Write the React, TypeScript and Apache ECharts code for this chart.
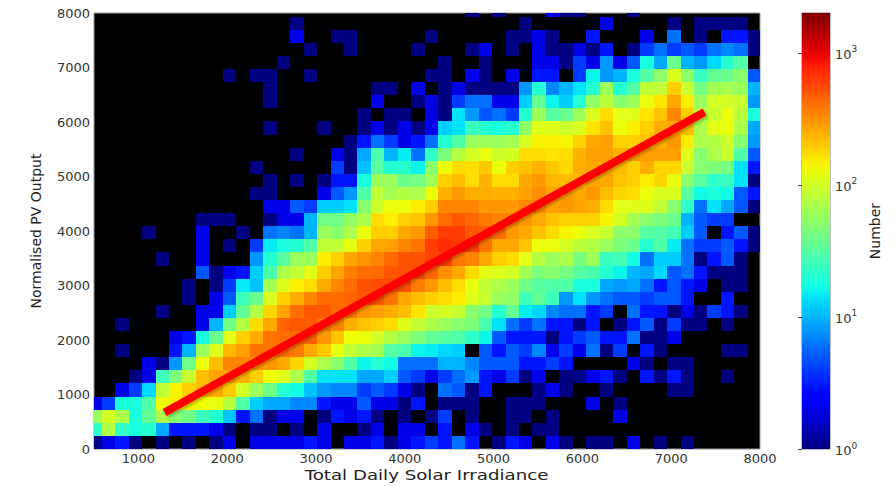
import React, { useEffect, useRef } from "react";
import * as echarts from "echarts";

const Z = [0, 0, 0, 0, 0, 0, 0, 0, 0, 0];
const r00 = [1,2,3,1,0,1,0,1,0,1, 2,0,2,2,2,2,3,2,0,2, 2,3,1,2,3,4,3,6,3,0, 1,3,2,0,2,1,0,1,1,0, 2,0,1,0,1,0,0,0,0,0];
const r01 = [22,75,22,18,20,9,3,3,3,2, 1,0,1,1,0,1,0,2,0,0, 1,2,0,2,2,0,3,0,2,1, 0,1,0,1,1,0,0,0,0,0, ...Z];
const r02 = [60,100,70,18,35,70,50,40,25,20, 11,3,6,1,2,2,0,1,3,2, 3,1,0,1,0,1,4,0,1,0, 0,1,1,0,1,0,0,0,0,2, ...Z];
const r03 = [2,4,18,18,30,130,150,140,130,120, 80,30,12,9,9,7,7,3,2,2, 5,2,2,1,3,0,1,1,1,0, 0,1,1,1,0,0,0,2,0,1, ...Z];
const r04 = [0,0,2,4,13,85,140,190,230,260, 200,100,60,40,20,17,11,8,7,7, 4,5,4,2,1,0,6,5,1,3, 0,0,0,1,2,1,0,0,1,0, 0,0,0,1,1,0,0,0,0,0];
const r05 = [0,0,0,1,2,25,45,90,220,270, 280,240,190,130,110,70,30,14,14,14, 9,9,12,5,4,2,4,6,8,3, 2,4,1,2,0,1,1,2,3,1, 0,3,1,3,1,0,0,1,0,0];
const r06 = [0,0,0,0,2,1,8,40,130,220, 350,350,300,300,260,180,100,70,50,30, 16,20,17,6,6,6,10,10,7,5, 5,5,3,3,4,3,0,0,0,0, 2,1,0,1,1,0,0,0,0,0];
const r07 = [0,0,1,0,0,0,3,10,60,110, 230,280,400,400,420,380,260,200,120,85, 70,65,32,28,16,15,13,12,0,5, 3,5,4,7,2,4,2,6,1,4, 0,3,1,0,0,0,0,1,1,0];
const r08 = [0,0,0,0,0,0,2,3,18,38, 115,190,250,400,420,430,450,300,210,130, 125,100,75,60,45,35,32,30,22,16, 5,3,3,3,1,3,4,5,3,3, 6,1,1,2,0,0,0,0,0,0];
const r09 = [0,0,1,0,0,0,0,0,2,10, 40,75,170,260,450,500,480,400,350,250, 210,190,170,110,85,70,60,50,45,28, 14,6,4,6,3,3,1,3,0,1, 3,5,1,4,1,1,0,1,0,0];
const r10 = [0,0,0,0,0,1,0,0,2,2, 12,35,75,180,270,420,500,500,420,380, 300,280,250,220,160,95,100,90,50,42, 20,35,15,13,7,6,6,3,4,0, 6,3,3,1,2,1,4,3,1,0];
const r11 = [0,0,0,0,0,0,0,1,0,2, 5,25,38,105,190,250,340,420,420,450, 500,500,400,260,220,190,170,150,110,90, 60,55,25,35,25,8,14,8,6,5, 5,4,5,5,3,0,0,3,0,0];
const r12 = [0,0,0,0,0,0,0,1,0,1, 4,15,11,65,110,145,170,260,340,420, 520,550,560,530,370,300,220,170,120,85, 70,60,40,32,30,30,18,18,9,8, 9,6,3,5,3,2,0,1,1,0];
const r13 = [0,0,0,0,0,0,0,0,5,1, 2,3,12,28,70,85,115,190,270,370, 420,430,500,520,540,450,320,260,170,115, 110,100,65,45,50,42,32,28,20,16, 10,9,13,5,6,3,1,1,1,0];
const r14 = [0,0,0,0,0,1,0,0,2,0, 0,0,8,20,32,60,60,150,190,270, 310,350,430,520,520,600,620,400,350,260, 190,170,115,75,60,70,42,60,24,26, 17,6,12,12,6,1,3,5,1,0];
const r15 = [0,0,0,0,0,0,0,0,2,0, 1,0,4,15,18,20,30,85,85,120, 190,260,280,340,400,620,700,650,620,400, 260,260,210,125,125,100,80,75,60,45, 38,20,30,15,6,4,4,5,3,1];
const r16 = [0,0,0,0,1,0,0,0,2,0, 0,1,0,6,7,6,10,60,50,70, 125,190,190,260,290,480,620,620,500,480, 420,300,260,210,170,140,125,105,90,52, 52,32,30,26,12,5,0,3,5,1];
const r17 = [0,0,0,0,0,0,0,0,1,1, 1,0,0,1,2,2,10,40,40,55, 70,170,145,190,210,300,420,500,430,380, 350,350,300,260,210,190,190,190,140,100, 65,52,45,38,10,5,4,4,0,0];
const r18 = [...Z, 0,0,0,2,2,5,4,12,12,14, 50,95,125,125,150,190,350,350,350,300, 300,300,340,340,280,290,270,250,170,115, 110,110,85,50,22,6,14,9,5,1];
const r19 = [...Z, 0,0,1,1,0,0,0,2,5,8, 30,85,65,75,70,125,240,290,250,250, 240,240,280,320,270,290,260,300,220,180, 170,125,105,105,32,17,18,17,5,3];
const r20 = [...Z, 0,0,0,1,0,1,0,1,3,3, 18,60,60,38,42,65,190,220,170,240, 170,170,260,290,230,220,230,260,260,210, 190,150,180,125,50,32,22,24,14,1];
const r21 = [...Z, 0,0,1,0,0,0,0,0,4,1, 11,32,20,20,16,50,125,170,170,200, 125,190,210,240,200,180,250,260,250,220, 190,250,180,180,90,50,45,42,14,3];
const r22 = [...Z, 0,0,0,0,0,1,0,0,2,1, 9,28,10,15,6,22,45,75,100,125, 95,100,170,170,160,170,240,280,280,240, 300,280,280,280,110,50,70,90,30,5];
const r23 = [...Z, 0,0,0,0,0,0,0,0,0,1, 3,6,4,2,3,6,20,30,60,60, 60,65,105,140,145,140,190,260,280,190, 190,210,250,300,150,70,75,95,50,8];
const r24 = [...Z, 0,0,0,1,0,0,0,1,0,0, 1,2,1,2,1,2,12,14,24,20, 18,20,55,110,110,95,105,160,210,125, 150,190,250,260,220,70,115,125,70,9];
const r25 = [...Z, ...Z, 1,0,1,1,0,2,1,14,8,5, 6,4,20,60,32,38,60,105,170,115, 110,160,210,340,190,80,90,125,80,18];
const r26 = [...Z, 0,0,0,1,0,0,0,0,0,0, 0,2,0,0,1,2,1,4,6,6, 2,2,12,36,16,12,20,55,80,50, 60,125,160,260,150,60,100,100,90,8];
const r27 = [...Z, 0,0,0,1,0,0,0,0,0,0, 0,1,1,0,2,0,1,2,1,1, 1,1,8,20,7,10,14,20,60,20, 30,85,85,190,90,42,65,68,58,10];
const r28 = [...Z, 1,0,1,1,0,0,1,0,0,0, 0,0,0,0,0,1,1,0,2,1, 0,2,0,3,3,0,4,16,8,10, 18,30,52,105,52,24,36,38,50,5];
const r29 = [...Z, 0,0,0,0,1,0,0,0,0,0, 0,0,0,0,0,0,1,0,0,1, 0,0,0,2,2,1,4,2,8,2, 5,18,9,38,10,8,13,20,30,0];
const r30 = [...Z, 0,0,0,0,0,0,1,0,0,1, 0,0,0,0,1,0,0,0,1,2, 0,1,0,2,1,1,2,1,3,0, 1,4,6,4,5,4,6,7,6,1];
const r31 = [...Z, 0,0,0,0,0,2,0,0,1,1, 0,0,0,0,0,1,0,0,0,0, 0,1,1,2,1,0,0,3,0,0, 0,2,0,6,0,1,0,3,3,1];
const r32 = [...Z, 0,0,0,0,0,1,0,0,0,0, ...Z, 0,0,1,0,0,0,0,0,2,0, 0,0,0,1,0,1,1,1,1,0];
const r33 = [...Z, ...Z, 0,0,0,0,0,0,0,0,1,0, 1,0,0,0,2,1,1,0,0,0, 1,0,0,0,0,0,0,0,0,0];
const rows = [r00,r01,r02,r03,r04,r05,r06,r07,r08,r09,r10,r11,r12,r13,r14,r15,r16,r17,r18,r19,r20,r21,r22,r23,r24,r25,r26,r27,r28,r29,r30,r31,r32,r33];

const binX0 = 435.1;
const binW = 151.6;
const binH = 240.4;
const xMin = 500;
const xMax = 8000;
const yMax = 8000;
const countMax = 2000;
const xTicks = [1000, 2000, 3000, 4000, 5000, 6000, 7000, 8000];
const yTicks = [0, 1000, 2000, 3000, 4000, 5000, 6000, 7000, 8000];
const barTicks = [1, 10, 100, 1000];
const fitLine = [[1295, 670], [7375, 6185]];

const jetR = [[0, 0], [0.35, 0], [0.66, 1], [0.89, 1], [1, 0.5]];
const jetG = [[0, 0], [0.125, 0], [0.375, 1], [0.64, 1], [0.91, 0], [1, 0]];
const jetB = [[0, 0.5], [0.11, 1], [0.34, 1], [0.65, 0], [1, 0]];
function lerp(pts: number[][], t: number): number {
  for (let i = 1; i < pts.length; i++) {
    if (t <= pts[i][0]) {
      const f = (t - pts[i - 1][0]) / (pts[i][0] - pts[i - 1][0]);
      return pts[i - 1][1] + f * (pts[i][1] - pts[i - 1][1]);
    }
  }
  return pts[pts.length - 1][1];
}
function jet(t: number): string {
  const c = (p: number[][]) => Math.round(255 * lerp(p, Math.max(0, Math.min(1, t))));
  return `rgb(${c(jetR)},${c(jetG)},${c(jetB)})`;
}
const cellData: number[][] = [];
rows.forEach((row, r) =>
  row.forEach((v, c) => {
    if (v > 0) cellData.push([binX0 + c * binW, r * binH, v]);
  })
);

export default function App() {
  const ref = useRef<HTMLDivElement>(null);
  useEffect(() => {
    document.body.style.margin = "0";
    const chart = echarts.init(ref.current!, undefined, { renderer: "svg" });
    const stops = [];
    for (let i = 0; i <= 40; i++) stops.push({ offset: i / 40, color: jet(1 - i / 40) });
    const font = "DejaVu Sans";
    chart.setOption({
      animation: false,
      backgroundColor: "#fff",
      grid: [
        { left: 94, top: 13, width: 666, height: 436, show: true, backgroundColor: "#000", borderColor: "#999", borderWidth: 1 },
        { left: 802, top: 13, width: 28, height: 436, show: true, backgroundColor: "#fff", borderColor: "#777", borderWidth: 1 },
      ],
      xAxis: [
        {
          type: "value", gridIndex: 0, min: xMin, max: xMax, splitLine: { show: false }, axisLine: { show: false }, axisTick: { show: false },
          axisLabel: { customValues: xTicks, formatter: (v: number) => String(v), fontFamily: font, fontSize: 13, color: "#333", margin: 3 },
        },
        { type: "value", gridIndex: 1, min: 0, max: 1, show: false },
      ],
      yAxis: [
        {
          type: "value", gridIndex: 0, min: 0, max: yMax, splitLine: { show: false }, axisLine: { show: false }, axisTick: { show: false },
          axisLabel: { customValues: yTicks, formatter: (v: number) => String(v), fontFamily: font, fontSize: 13, color: "#333", margin: 4 },
          name: "Normalised PV Output", nameLocation: "middle", nameGap: 51,
          nameTextStyle: { fontFamily: font, fontSize: 14, color: "#222" },
        },
        {
          type: "log", logBase: 10, gridIndex: 1, min: 1, max: countMax, position: "right", splitLine: { show: false }, axisLine: { show: false },
          axisTick: { show: true, inside: true, length: 4, customValues: barTicks, lineStyle: { color: "#444" } },
          axisLabel: {
            customValues: barTicks, margin: 5,
            formatter: (v: number) => `{a|10}{b|${Math.round(Math.log10(v))}}`,
            rich: {
              a: { fontFamily: font, fontSize: 13, color: "#333", lineHeight: 16, verticalAlign: "bottom" },
              b: { fontFamily: font, fontSize: 9, color: "#333", lineHeight: 16, verticalAlign: "top" },
            },
          },
          name: "Number", nameLocation: "middle", nameGap: 38, nameRotate: 90,
          nameTextStyle: { fontFamily: font, fontSize: 14, color: "#222" },
        },
      ],
      graphic: [
        {
          type: "text", x: 426.5, y: 475, scaleX: 1.3, scaleY: 1,
          style: { text: "Total Daily Solar Irradiance", font: `14px "${font}"`, fill: "#222", textAlign: "center", textVerticalAlign: "middle" },
        },
      ],
      series: [
        {
          type: "custom", xAxisIndex: 0, yAxisIndex: 0, data: cellData, silent: true,
          renderItem: (_: any, api: any) => {
            const x0 = Math.max(xMin, api.value(0));
            const x1 = Math.min(xMax, api.value(0) + binW);
            const y0 = api.value(1);
            const y1 = Math.min(yMax, api.value(1) + binH);
            const a = api.coord([x0, y1]);
            const b = api.coord([x1, y0]);
            const L = Math.round(a[0]), T = Math.round(a[1]), R = Math.round(b[0]), B = Math.round(b[1]);
            return {
              type: "rect",
              shape: { x: L, y: T, width: R - L, height: B - T },
              style: { fill: jet(Math.log10(api.value(2)) / Math.log10(countMax)) },
            };
          },
        },
        {
          type: "line", xAxisIndex: 0, yAxisIndex: 0, data: fitLine, showSymbol: false, symbol: "none", silent: true, z: 5,
          lineStyle: { color: "#ff0000", width: 8, cap: "butt", shadowColor: "rgba(0,0,0,0.25)", shadowBlur: 2, shadowOffsetX: 2, shadowOffsetY: 2 },
        },
        {
          type: "custom", xAxisIndex: 1, yAxisIndex: 1, data: [[0, 1, 1, countMax]], silent: true,
          renderItem: (_: any, api: any) => {
            const a = api.coord([api.value(0), api.value(3)]);
            const b = api.coord([api.value(2), api.value(1)]);
            return {
              type: "rect",
              shape: { x: a[0], y: a[1], width: b[0] - a[0], height: b[1] - a[1] },
              style: { fill: new echarts.graphic.LinearGradient(0, 0, 0, 1, stops) },
            };
          },
        },
      ],
    });
    return () => chart.dispose();
  }, []);
  return <div ref={ref} style={{ position: "absolute", left: 0, top: 0, width: 895, height: 486 }} />;
}
